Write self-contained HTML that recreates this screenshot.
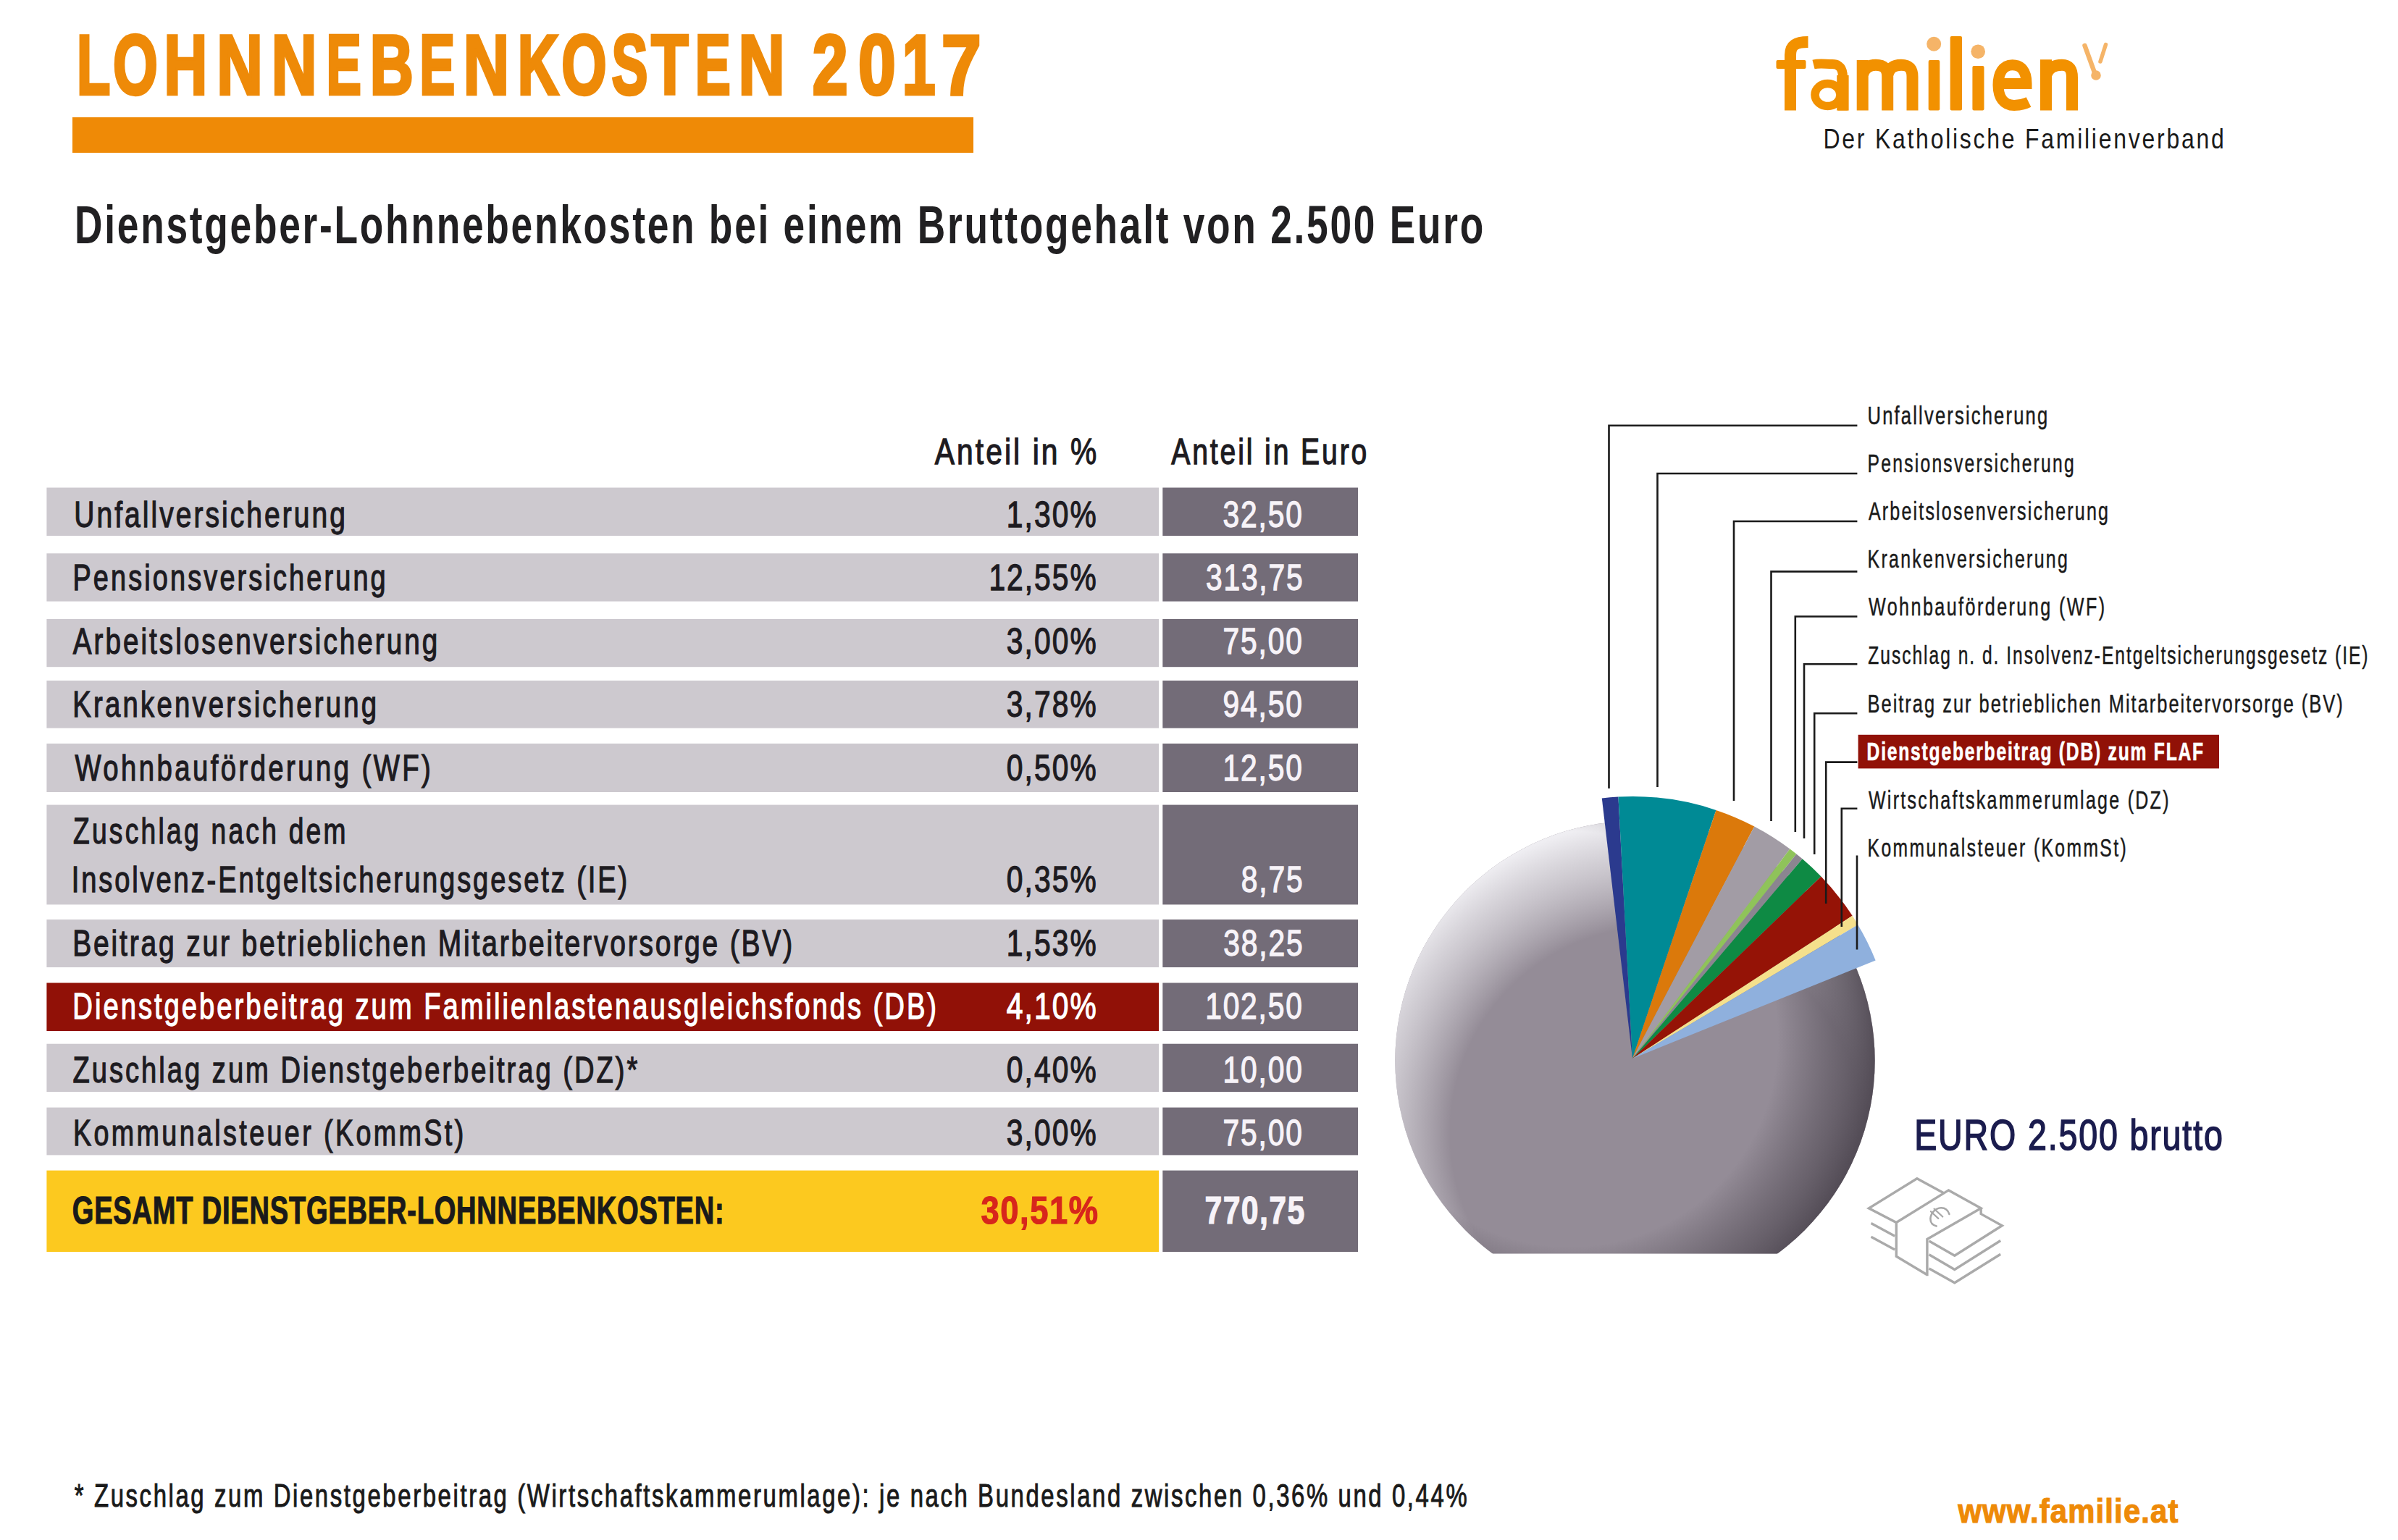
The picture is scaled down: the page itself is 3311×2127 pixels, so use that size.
<!DOCTYPE html>
<html><head><meta charset="utf-8"><title>Lohnnebenkosten 2017</title>
<style>html,body{margin:0;padding:0;background:#fff;width:3311px;height:2127px;overflow:hidden}</style>
</head><body>
<svg width="3311" height="2127" viewBox="0 0 3311 2127" style="display:block;font-family:'Liberation Sans',sans-serif">
<defs><clipPath id="pieclip"><rect x="1800" y="1000" width="900" height="731.4000000000001"/></clipPath>
<radialGradient id="rlight" gradientUnits="userSpaceOnUse" cx="2287.5" cy="1565" r="432"><stop offset="0.66" stop-color="#eeedf1" stop-opacity="0"/><stop offset="0.86" stop-color="#e2e0e5" stop-opacity="0.72"/><stop offset="1" stop-color="#efeef2" stop-opacity="1"/></radialGradient>
<radialGradient id="rdark" gradientUnits="userSpaceOnUse" cx="2167.5" cy="1435" r="422"><stop offset="0.68" stop-color="#524b55" stop-opacity="0"/><stop offset="0.9" stop-color="#5a535d" stop-opacity="0.75"/><stop offset="1" stop-color="#544d57" stop-opacity="1"/></radialGradient>
<linearGradient id="lgv" gradientUnits="userSpaceOnUse" x1="2257.5" y1="1133.8" x2="2257.5" y2="1796.2">
<stop offset="0" stop-color="#f4f3f7" stop-opacity="1"/><stop offset="0.5" stop-color="#948c97" stop-opacity="0"/><stop offset="1" stop-color="#3a333d" stop-opacity="0.35"/></linearGradient>
<linearGradient id="lgh" gradientUnits="userSpaceOnUse" x1="1926.3" y1="1465" x2="2588.7" y2="1465">
<stop offset="0" stop-color="#e6e3e9" stop-opacity="0.55"/><stop offset="0.5" stop-color="#948c97" stop-opacity="0"/><stop offset="1" stop-color="#3f3842" stop-opacity="1"/></linearGradient>
<radialGradient id="rg" gradientUnits="userSpaceOnUse" cx="2257.5" cy="1465" r="331.2">
<stop offset="0" stop-color="#000"/><stop offset="0.45" stop-color="#000"/><stop offset="0.8" stop-color="#b0b0b0"/><stop offset="1" stop-color="#fff"/></radialGradient>
<mask id="rim" maskUnits="userSpaceOnUse" x="1800" y="1000" width="900" height="800"><rect x="1800" y="1000" width="900" height="800" fill="url(#rg)"/></mask>
</defs>
<rect width="3311" height="2127" fill="#ffffff"/>
<rect x="100" y="162" width="1244" height="49" fill="#ef8a06"/><rect x="64.4" y="673.5" width="1535.6" height="66.5" fill="#cdc9cf"/><rect x="1605.3" y="673.5" width="269.7" height="66.5" fill="#736c78"/><rect x="64.4" y="764.3" width="1535.6" height="66.3" fill="#cdc9cf"/><rect x="1605.3" y="764.3" width="269.7" height="66.3" fill="#736c78"/><rect x="64.4" y="855" width="1535.6" height="66.2" fill="#cdc9cf"/><rect x="1605.3" y="855" width="269.7" height="66.2" fill="#736c78"/><rect x="64.4" y="940" width="1535.6" height="65.7" fill="#cdc9cf"/><rect x="1605.3" y="940" width="269.7" height="65.7" fill="#736c78"/><rect x="64.4" y="1027" width="1535.6" height="67.0" fill="#cdc9cf"/><rect x="1605.3" y="1027" width="269.7" height="67.0" fill="#736c78"/><rect x="64.4" y="1111.6" width="1535.6" height="137.8" fill="#cdc9cf"/><rect x="1605.3" y="1111.6" width="269.7" height="137.8" fill="#736c78"/><rect x="64.4" y="1270" width="1535.6" height="66.0" fill="#cdc9cf"/><rect x="1605.3" y="1270" width="269.7" height="66.0" fill="#736c78"/><rect x="64.4" y="1357.5" width="1535.6" height="66.5" fill="#911107"/><rect x="1605.3" y="1357.5" width="269.7" height="66.5" fill="#736c78"/><rect x="64.4" y="1441.7" width="1535.6" height="66.3" fill="#cdc9cf"/><rect x="1605.3" y="1441.7" width="269.7" height="66.3" fill="#736c78"/><rect x="64.4" y="1529.6" width="1535.6" height="65.8" fill="#cdc9cf"/><rect x="1605.3" y="1529.6" width="269.7" height="65.8" fill="#736c78"/><rect x="64.4" y="1616.6" width="1535.6" height="112.4" fill="#fcc91f"/><rect x="1605.3" y="1616.6" width="269.7" height="112.4" fill="#736c78"/>
<g clip-path="url(#pieclip)"><circle cx="2257.5" cy="1465" r="331.2" fill="#948c97"/><circle cx="2257.5" cy="1465" r="331.2" fill="url(#rlight)"/><circle cx="2257.5" cy="1465" r="331.2" fill="url(#rdark)"/></g><path d="M2254,1462 L2211.77,1102.47 A362,362 0 0 1 2234.42,1100.53 Z" fill="#2b3a8e"/><path d="M2254,1462 L2234.42,1100.53 A362,362 0 0 1 2369.46,1118.91 Z" fill="#008a95"/><path d="M2254,1462 L2369.46,1118.91 A362,362 0 0 1 2422.27,1141.49 Z" fill="#db790b"/><path d="M2254,1462 L2422.27,1141.49 A362,362 0 0 1 2471.35,1172.51 Z" fill="#a29ca5"/><path d="M2254,1462 L2471.35,1172.51 A362,362 0 0 1 2480.34,1179.48 Z" fill="#8fc35a"/><path d="M2254,1462 L2480.34,1179.48 A362,362 0 0 1 2488.62,1186.32 Z" fill="#8b8590"/><path d="M2254,1462 L2488.62,1186.32 A362,362 0 0 1 2514.40,1210.53 Z" fill="#0e8a44"/><path d="M2254,1462 L2514.40,1210.53 A362,362 0 0 1 2557.60,1264.84 Z" fill="#951306"/><path d="M2254,1462 L2557.60,1264.84 A362,362 0 0 1 2565.27,1277.18 Z" fill="#f5e08c"/><path d="M2254,1462 L2565.27,1277.18 A362,362 0 0 1 2589.64,1326.39 Z" fill="#8fb0dd"/>
<path d="M2221.5,1089 V587.8 H2564.4" fill="none" stroke="#1a1a1a" stroke-width="2.6"/><path d="M2288.5,1087 V654 H2564.4" fill="none" stroke="#1a1a1a" stroke-width="2.6"/><path d="M2394,1106 V720 H2564.4" fill="none" stroke="#1a1a1a" stroke-width="2.6"/><path d="M2445.5,1134 V789.4 H2564.4" fill="none" stroke="#1a1a1a" stroke-width="2.6"/><path d="M2478.8,1149 V851.5 H2564.4" fill="none" stroke="#1a1a1a" stroke-width="2.6"/><path d="M2491,1158 V917.2 H2564.4" fill="none" stroke="#1a1a1a" stroke-width="2.6"/><path d="M2505.2,1180 V985.2 H2564.4" fill="none" stroke="#1a1a1a" stroke-width="2.6"/><path d="M2521.2,1248 V1052.6 H2564.4" fill="none" stroke="#1a1a1a" stroke-width="2.6"/><path d="M2542.8,1280 V1116.8 H2564.4" fill="none" stroke="#1a1a1a" stroke-width="2.6"/><path d="M2564,1181.5 V1311.5" fill="none" stroke="#1a1a1a" stroke-width="2.6"/>
<rect x="2565.6" y="1014.8" width="498.4" height="46.6" fill="#911107"/>
<path d="M2472,152.6 V76 C2472,62 2480,58 2496.5,58" fill="none" stroke="#f29100" stroke-width="16"/><rect x="2452.5" y="83" width="41" height="12" rx="2" fill="#f29100"/><path d="M2504,89 C2512,87 2520,88.5 2530,88.5 C2540,88.5 2544.4,95 2544.4,106 V152.6" fill="none" stroke="#f29100" stroke-width="13"/><rect x="2536.2" y="104" width="16.4" height="48.6" fill="#f29100"/><ellipse cx="2523.5" cy="131" rx="17.5" ry="15.5" fill="none" stroke="#f29100" stroke-width="11.5"/><path d="M2571.7,152.6 V83 M2571.7,104 C2574,93 2582,89.7 2590,89.7 C2601,89.7 2606.2,95 2606.2,106 V152.6 M2606.2,104 C2609,93 2616,89.7 2625,89.7 C2636,89.7 2640.5,95 2640.5,106 V152.6" fill="none" stroke="#f29100" stroke-width="16"/><rect x="2662.7" y="83" width="15.6" height="69.6" rx="2" fill="#f29100"/><rect x="2692.7" y="50" width="16.3" height="102.6" rx="2" fill="#f29100"/><rect x="2723.4" y="91" width="16.1" height="61.6" rx="2" fill="#f29100"/><path d="M2759,115.6 H2798 C2798,97 2790,89.7 2778.6,89.7 C2765,89.7 2759,102 2759,117.6 C2759,135 2767,145.5 2781,145.5 C2789,145.5 2795,144 2801,141" fill="none" stroke="#f29100" stroke-width="15"/><path d="M2825,152.6 V82.2 M2825,104 C2828,93 2838,89.7 2847,89.7 C2857,89.7 2861,96 2861,107 V152.6" fill="none" stroke="#f29100" stroke-width="16"/><circle cx="2670.2" cy="60.8" r="10" fill="#f5b468"/><circle cx="2731.2" cy="71.3" r="9.8" fill="#f5b468"/><path d="M2878.5,63 L2893,103" stroke="#f5b468" stroke-width="6.5" stroke-linecap="round" fill="none"/><circle cx="2894" cy="104" r="6.8" fill="#f5b468"/><path d="M2907.5,61.5 L2900,85" stroke="#f5b468" stroke-width="5.5" stroke-linecap="round" fill="none"/>
<path d="M2683.25,1647.53 L2646.88,1627.79 L2580.39,1668.83 L2618.31,1688.57 L2690.52,1643.90 L2735.19,1668.83 L2660.91,1711.43 L2660.91,1762.34 M2618.31,1688.57 L2618.31,1735.32 L2660.91,1760.78" stroke="#aaaaaa" stroke-width="3.4" fill="none" stroke-linejoin="miter"/><path d="M2735.19,1668.83 L2735.19,1676.62 L2764.29,1692.73 L2698.83,1734.29 L2663.51,1714.03" stroke="#aaaaaa" stroke-width="3.4" fill="none" stroke-linejoin="miter"/><path d="M2663.51,1732.73 L2698.83,1753.51 L2762.21,1713.51 M2663.51,1751.95 L2698.83,1771.69 L2762.21,1732.21" stroke="#aaaaaa" stroke-width="3.4" fill="none" stroke-linejoin="miter"/><path d="M2583.51,1689.61 L2616.23,1707.27 M2583.51,1708.31 L2616.23,1725.97" stroke="#aaaaaa" stroke-width="3.4" fill="none" stroke-linejoin="miter"/><path d="M2691.4,1676.9 C2689.5,1671 2685,1668.2 2680,1668.3 C2672,1668.6 2665.6,1676 2665.4,1683.4 C2665.3,1688.5 2668.5,1692.2 2673.7,1693.5" stroke="#a8a8a8" stroke-width="2.6" fill="none" stroke-linecap="round"/><path d="M2665.9,1673.2 L2676.3,1682.9 M2670.6,1669.6 L2682.3,1680.5" stroke="#a8a8a8" stroke-width="2.2" fill="none" stroke-linecap="round"/>
<g font-family="Liberation Sans, sans-serif">
<text transform="translate(103.12,336.00) scale(0.7202,1)" font-size="74" font-weight="bold" fill="#212022" style="letter-spacing:3.790px">Dienstgeber-Lohnnebenkosten bei einem Bruttogehalt von 2.500 Euro</text>
<text transform="translate(2517.51,204.50) scale(0.8308,1)" font-size="38.5" font-weight="normal" fill="#1a1a1a" style="letter-spacing:3.304px">Der Katholische Familienverband</text>
<text transform="translate(1290.70,641.00) scale(0.8061,1)" font-size="50.5" font-weight="normal" fill="#1d1b21" stroke="#1d1b21" stroke-width="1.3" style="letter-spacing:3.869px">Anteil in %</text>
<text transform="translate(1617.30,641.00) scale(0.7739,1)" font-size="50.5" font-weight="normal" fill="#1d1b21" stroke="#1d1b21" stroke-width="1.3" style="letter-spacing:3.735px">Anteil in Euro</text>
<text transform="translate(102.18,727.80) scale(0.7725,1)" font-size="50.5" font-weight="normal" fill="#1d1b21" stroke="#1d1b21" stroke-width="1.3" style="letter-spacing:3.947px">Unfallversicherung</text>
<text transform="translate(100.40,815.30) scale(0.7498,1)" font-size="50.5" font-weight="normal" fill="#1d1b21" stroke="#1d1b21" stroke-width="1.3" style="letter-spacing:4.196px">Pensionsversicherung</text>
<text transform="translate(100.70,902.80) scale(0.7645,1)" font-size="50.5" font-weight="normal" fill="#1d1b21" stroke="#1d1b21" stroke-width="1.3" style="letter-spacing:3.991px">Arbeitslosenversicherung</text>
<text transform="translate(100.37,990.20) scale(0.7579,1)" font-size="50.5" font-weight="normal" fill="#1d1b21" stroke="#1d1b21" stroke-width="1.3" style="letter-spacing:4.252px">Krankenversicherung</text>
<text transform="translate(103.40,1077.60) scale(0.7586,1)" font-size="50.5" font-weight="normal" fill="#1d1b21" stroke="#1d1b21" stroke-width="1.3" style="letter-spacing:4.516px">Wohnbauförderung (WF)</text>
<text transform="translate(100.96,1165.00) scale(0.7358,1)" font-size="50.5" font-weight="normal" fill="#1d1b21" stroke="#1d1b21" stroke-width="1.3" style="letter-spacing:4.443px">Zuschlag nach dem</text>
<text transform="translate(98.68,1231.80) scale(0.7548,1)" font-size="50.5" font-weight="normal" fill="#1d1b21" stroke="#1d1b21" stroke-width="1.3" style="letter-spacing:3.823px">Insolvenz-Entgeltsicherungsgesetz (IE)</text>
<text transform="translate(100.31,1320.00) scale(0.7718,1)" font-size="50.5" font-weight="normal" fill="#1d1b21" stroke="#1d1b21" stroke-width="1.3" style="letter-spacing:3.661px">Beitrag zur betrieblichen Mitarbeitervorsorge (BV)</text>
<text transform="translate(100.37,1406.50) scale(0.7573,1)" font-size="50.5" font-weight="normal" fill="#ffffff" stroke="#ffffff" stroke-width="1.3" style="letter-spacing:3.921px">Dienstgeberbeitrag zum Familienlastenausgleichsfonds (DB)</text>
<text transform="translate(100.45,1494.50) scale(0.7542,1)" font-size="50.5" font-weight="normal" fill="#1d1b21" stroke="#1d1b21" stroke-width="1.3" style="letter-spacing:4.016px">Zuschlag zum Dienstgeberbeitrag (DZ)*</text>
<text transform="translate(100.92,1581.50) scale(0.7457,1)" font-size="50.5" font-weight="normal" fill="#1d1b21" stroke="#1d1b21" stroke-width="1.3" style="letter-spacing:4.560px">Kommunalsteuer (KommSt)</text>
<text transform="translate(99.76,1689.70) scale(0.7182,1)" font-size="53" font-weight="bold" fill="#1a1a1a" stroke="#1a1a1a" stroke-width="1.2" style="letter-spacing:1.100px">GESAMT DIENSTGEBER-LOHNNEBENKOSTEN:</text>
<text transform="translate(1389.78,727.80) scale(0.8066,1)" font-size="50.5" font-weight="normal" fill="#1d1b21" stroke="#1d1b21" stroke-width="1.3" style="letter-spacing:2.621px">1,30%</text>
<text transform="translate(1365.42,815.30) scale(0.8066,1)" font-size="50.5" font-weight="normal" fill="#1d1b21" stroke="#1d1b21" stroke-width="1.3" style="letter-spacing:2.520px">12,55%</text>
<text transform="translate(1389.66,902.80) scale(0.8066,1)" font-size="50.5" font-weight="normal" fill="#1d1b21" stroke="#1d1b21" stroke-width="1.3" style="letter-spacing:2.659px">3,00%</text>
<text transform="translate(1389.66,990.20) scale(0.8066,1)" font-size="50.5" font-weight="normal" fill="#1d1b21" stroke="#1d1b21" stroke-width="1.3" style="letter-spacing:2.659px">3,78%</text>
<text transform="translate(1389.66,1077.60) scale(0.8066,1)" font-size="50.5" font-weight="normal" fill="#1d1b21" stroke="#1d1b21" stroke-width="1.3" style="letter-spacing:2.659px">0,50%</text>
<text transform="translate(1389.66,1231.80) scale(0.8066,1)" font-size="50.5" font-weight="normal" fill="#1d1b21" stroke="#1d1b21" stroke-width="1.3" style="letter-spacing:2.659px">0,35%</text>
<text transform="translate(1389.78,1320.00) scale(0.8066,1)" font-size="50.5" font-weight="normal" fill="#1d1b21" stroke="#1d1b21" stroke-width="1.3" style="letter-spacing:2.621px">1,53%</text>
<text transform="translate(1389.66,1406.50) scale(0.8066,1)" font-size="50.5" font-weight="normal" fill="#ffffff" stroke="#ffffff" stroke-width="1.3" style="letter-spacing:2.659px">4,10%</text>
<text transform="translate(1389.66,1494.50) scale(0.8066,1)" font-size="50.5" font-weight="normal" fill="#1d1b21" stroke="#1d1b21" stroke-width="1.3" style="letter-spacing:2.659px">0,40%</text>
<text transform="translate(1389.66,1581.50) scale(0.8066,1)" font-size="50.5" font-weight="normal" fill="#1d1b21" stroke="#1d1b21" stroke-width="1.3" style="letter-spacing:2.659px">3,00%</text>
<text transform="translate(1354.55,1689.70) scale(0.8536,1)" font-size="53" font-weight="bold" fill="#d7261c" stroke="#d7261c" stroke-width="1.2" style="letter-spacing:1.870px">30,51%</text>
<text transform="translate(1688.40,727.80) scale(0.8066,1)" font-size="50.5" font-weight="normal" fill="#f7f3f8" stroke="#f7f3f8" stroke-width="1.3" style="letter-spacing:2.339px">32,50</text>
<text transform="translate(1664.91,815.30) scale(0.8066,1)" font-size="50.5" font-weight="normal" fill="#f7f3f8" stroke="#f7f3f8" stroke-width="1.3" style="letter-spacing:2.279px">313,75</text>
<text transform="translate(1688.46,902.80) scale(0.8066,1)" font-size="50.5" font-weight="normal" fill="#f7f3f8" stroke="#f7f3f8" stroke-width="1.3" style="letter-spacing:2.320px">75,00</text>
<text transform="translate(1688.46,990.20) scale(0.8066,1)" font-size="50.5" font-weight="normal" fill="#f7f3f8" stroke="#f7f3f8" stroke-width="1.3" style="letter-spacing:2.320px">94,50</text>
<text transform="translate(1688.52,1077.60) scale(0.8066,1)" font-size="50.5" font-weight="normal" fill="#f7f3f8" stroke="#f7f3f8" stroke-width="1.3" style="letter-spacing:2.301px">12,50</text>
<text transform="translate(1713.69,1231.80) scale(0.8066,1)" font-size="50.5" font-weight="normal" fill="#f7f3f8" stroke="#f7f3f8" stroke-width="1.3" style="letter-spacing:2.363px">8,75</text>
<text transform="translate(1689.27,1320.00) scale(0.8066,1)" font-size="50.5" font-weight="normal" fill="#f7f3f8" stroke="#f7f3f8" stroke-width="1.3" style="letter-spacing:2.320px">38,25</text>
<text transform="translate(1664.16,1406.50) scale(0.8066,1)" font-size="50.5" font-weight="normal" fill="#f7f3f8" stroke="#f7f3f8" stroke-width="1.3" style="letter-spacing:2.264px">102,50</text>
<text transform="translate(1688.52,1494.50) scale(0.8066,1)" font-size="50.5" font-weight="normal" fill="#f7f3f8" stroke="#f7f3f8" stroke-width="1.3" style="letter-spacing:2.301px">10,00</text>
<text transform="translate(1688.46,1581.50) scale(0.8066,1)" font-size="50.5" font-weight="normal" fill="#f7f3f8" stroke="#f7f3f8" stroke-width="1.3" style="letter-spacing:2.320px">75,00</text>
<text transform="translate(1663.59,1689.70) scale(0.8073,1)" font-size="53" font-weight="bold" fill="#f7f3f8" stroke="#f7f3f8" stroke-width="1.2" style="letter-spacing:1.670px">770,75</text>
<text transform="translate(2578.54,586.30) scale(0.7307,1)" font-size="35" font-weight="normal" fill="#1a1a1a" stroke="#1a1a1a" stroke-width="0.5" style="letter-spacing:2.973px">Unfallversicherung</text>
<text transform="translate(2578.59,652.00) scale(0.7051,1)" font-size="35" font-weight="normal" fill="#1a1a1a" stroke="#1a1a1a" stroke-width="0.5" style="letter-spacing:3.166px">Pensionsversicherung</text>
<text transform="translate(2580.00,718.30) scale(0.7164,1)" font-size="35" font-weight="normal" fill="#1a1a1a" stroke="#1a1a1a" stroke-width="0.5" style="letter-spacing:3.004px">Arbeitslosenversicherung</text>
<text transform="translate(2578.58,784.00) scale(0.7109,1)" font-size="35" font-weight="normal" fill="#1a1a1a" stroke="#1a1a1a" stroke-width="0.5" style="letter-spacing:3.209px">Krankenversicherung</text>
<text transform="translate(2580.00,850.30) scale(0.7179,1)" font-size="35" font-weight="normal" fill="#1a1a1a" stroke="#1a1a1a" stroke-width="0.5" style="letter-spacing:3.395px">Wohnbauförderung (WF)</text>
<text transform="translate(2579.30,917.00) scale(0.7021,1)" font-size="35" font-weight="normal" fill="#1a1a1a" stroke="#1a1a1a" stroke-width="0.5" style="letter-spacing:2.830px">Zuschlag n. d. Insolvenz-Entgeltsicherungsgesetz (IE)</text>
<text transform="translate(2578.55,984.20) scale(0.7267,1)" font-size="35" font-weight="normal" fill="#1a1a1a" stroke="#1a1a1a" stroke-width="0.5" style="letter-spacing:2.754px">Beitrag zur betrieblichen Mitarbeitervorsorge (BV)</text>
<text transform="translate(2580.00,1116.50) scale(0.7140,1)" font-size="35" font-weight="normal" fill="#1a1a1a" stroke="#1a1a1a" stroke-width="0.5" style="letter-spacing:3.218px">Wirtschaftskammerumlage (DZ)</text>
<text transform="translate(2578.59,1182.80) scale(0.7042,1)" font-size="35" font-weight="normal" fill="#1a1a1a" stroke="#1a1a1a" stroke-width="0.5" style="letter-spacing:3.434px">Kommunalsteuer (KommSt)</text>
<text transform="translate(2577.59,1049.90) scale(0.7037,1)" font-size="35" font-weight="bold" fill="#ffffff" stroke="#ffffff" stroke-width="0.7" style="letter-spacing:2.547px">Dienstgeberbeitrag (DB) zum FLAF</text>
<text transform="translate(2643.17,1587.80) scale(0.7818,1)" font-size="59.6" font-weight="normal" fill="#1b1c4e" stroke="#1b1c4e" stroke-width="1.6" style="letter-spacing:2.355px">EURO 2.500 brutto</text>
<text transform="translate(102.80,2081.30) scale(0.7373,1)" font-size="44.6" font-weight="normal" fill="#1a1a1a" stroke="#1a1a1a" stroke-width="1.0" style="letter-spacing:3.544px">* Zuschlag zum Dienstgeberbeitrag (Wirtschaftskammerumlage): je nach Bundesland zwischen 0,36% und 0,44%</text>
<text transform="translate(2703.39,2103.40) scale(0.8895,1)" font-size="47" font-weight="bold" fill="#ee8a08" stroke="#ee8a08" stroke-width="1.2" style="letter-spacing:1.320px">www.familie.at</text>
<text transform="translate(106.09,130.4) scale(0.6508,1)" font-size="116.5" font-weight="bold" fill="#ee8a08" stroke="#ee8a08" stroke-width="4.5">L</text>
<text transform="translate(155.92,130.4) scale(0.6817,1)" font-size="116.5" font-weight="bold" fill="#ee8a08" stroke="#ee8a08" stroke-width="4.5">O</text>
<text transform="translate(226.58,130.4) scale(0.7100,1)" font-size="116.5" font-weight="bold" fill="#ee8a08" stroke="#ee8a08" stroke-width="4.5">H</text>
<text transform="translate(299.36,130.4) scale(0.7557,1)" font-size="116.5" font-weight="bold" fill="#ee8a08" stroke="#ee8a08" stroke-width="4.5">N</text>
<text transform="translate(374.83,130.4) scale(0.7457,1)" font-size="116.5" font-weight="bold" fill="#ee8a08" stroke="#ee8a08" stroke-width="4.5">N</text>
<text transform="translate(450.39,130.4) scale(0.6224,1)" font-size="116.5" font-weight="bold" fill="#ee8a08" stroke="#ee8a08" stroke-width="4.5">E</text>
<text transform="translate(510.65,130.4) scale(0.7139,1)" font-size="116.5" font-weight="bold" fill="#ee8a08" stroke="#ee8a08" stroke-width="4.5">B</text>
<text transform="translate(579.34,130.4) scale(0.6299,1)" font-size="116.5" font-weight="bold" fill="#ee8a08" stroke="#ee8a08" stroke-width="4.5">E</text>
<text transform="translate(639.68,130.4) scale(0.7529,1)" font-size="116.5" font-weight="bold" fill="#ee8a08" stroke="#ee8a08" stroke-width="4.5">N</text>
<text transform="translate(714.73,130.4) scale(0.6740,1)" font-size="116.5" font-weight="bold" fill="#ee8a08" stroke="#ee8a08" stroke-width="4.5">K</text>
<text transform="translate(775.30,130.4) scale(0.6878,1)" font-size="116.5" font-weight="bold" fill="#ee8a08" stroke="#ee8a08" stroke-width="4.5">O</text>
<text transform="translate(844.52,130.4) scale(0.6423,1)" font-size="116.5" font-weight="bold" fill="#ee8a08" stroke="#ee8a08" stroke-width="4.5">S</text>
<text transform="translate(899.13,130.4) scale(0.7203,1)" font-size="116.5" font-weight="bold" fill="#ee8a08" stroke="#ee8a08" stroke-width="4.5">T</text>
<text transform="translate(959.64,130.4) scale(0.6299,1)" font-size="116.5" font-weight="bold" fill="#ee8a08" stroke="#ee8a08" stroke-width="4.5">E</text>
<text transform="translate(1019.61,130.4) scale(0.7629,1)" font-size="116.5" font-weight="bold" fill="#ee8a08" stroke="#ee8a08" stroke-width="4.5">N</text>
<text transform="translate(1121.83,130.4) scale(0.7544,1)" font-size="116.5" font-weight="bold" fill="#ee8a08" stroke="#ee8a08" stroke-width="4.5">2</text>
<text transform="translate(1185.06,130.4) scale(0.7982,1)" font-size="116.5" font-weight="bold" fill="#ee8a08" stroke="#ee8a08" stroke-width="4.5">0</text>
<text transform="translate(1245.80,130.4) scale(0.7073,1)" font-size="116.5" font-weight="bold" fill="#ee8a08" stroke="#ee8a08" stroke-width="4.5">1</text>
<text transform="translate(1299.93,130.4) scale(0.8436,1)" font-size="116.5" font-weight="bold" fill="#ee8a08" stroke="#ee8a08" stroke-width="4.5">7</text>
</g>
</svg>
</body></html>
